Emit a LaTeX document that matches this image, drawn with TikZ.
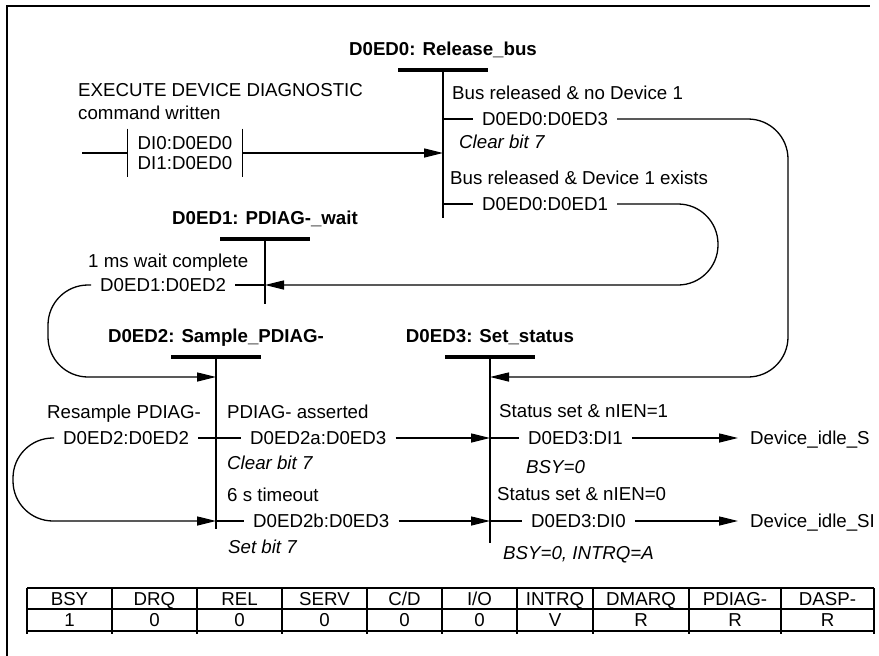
\documentclass[tikz,border=0pt]{standalone}
\usepackage{fontspec}
\setmainfont{Liberation Sans}
\usetikzlibrary{arrows.meta,positioning}
\newcommand\dgfont{\fontsize{18.7pt}{20pt}\selectfont}

\begin{document}
\begin{tikzpicture}[x=1pt,y=-1pt,font=\dgfont,
    lbl/.style={anchor=west,inner sep=0pt,text height=13.4pt,text depth=0pt},
    note/.style={lbl,font=\dgfont\itshape},
    tr/.style={lbl,inner xsep=9pt},
    idle/.style={lbl,inner xsep=12pt},
    ttl/.style={inner sep=0pt,text height=13.4pt,text depth=0pt,font=\dgfont\bfseries},
    cell/.style={inner sep=0pt,text height=13.4pt,text depth=0pt},
    wire/.style={line width=1.3pt},
    flow/.style={wire,-{Triangle[length=19pt,width=9pt]}},
    state/.style={line width=1.6pt},
    bar/.style={line width=4.5pt},
    grid/.style={line width=1.6pt}]
  \useasboundingbox (0,0) rectangle (879,656);
  \draw[line width=2pt] (7,656) -- (7,6) -- (870,6);

  % states: bar, title and vertical line
  \coordinate (s0) at (443,70);
  \coordinate (s1) at (265,239);
  \coordinate (s2) at (216,357);
  \coordinate (s3) at (490,357);
  \foreach \s/\len in {s0/148,s1/65,s2/172,s3/186}{
    \draw[bar] ([xshift=-45pt]\s) -- ([xshift=45pt]\s);
    \draw[state] (\s) -- ++(0,\len);
  }
  \node[ttl,above=14pt of s0] (n0) {D0ED0: Release\_bus};
  \node[ttl,above=14pt of s1] (n1) {D0ED1: PDIAG-\_wait};
  \node[ttl,above=14pt of s2] (n2) {D0ED2: Sample\_PDIAG-};
  \node[ttl,above=14pt of s3] (n3) {D0ED3: Set\_status};

  % command entry
  \node[lbl] (cmdA) at (78,90) {EXECUTE DEVICE DIAGNOSTIC};
  \node[lbl] (cmdB) at (78,113) {command written};
  \node[align=left,inner xsep=10pt,inner ysep=7.5pt] (cmd) at (185,153)
    {DI0:D0ED0\\DI1:D0ED0};
  \draw[state] (cmd.north west) -- (cmd.south west);
  \draw[state] (cmd.north east) -- (cmd.south east);
  \coordinate (start) at (82,153);
  \draw[wire] (start) -- (cmd.west);
  \draw[flow] (cmd.east) -- (cmd.east -| s0);

  % D0ED0
  \node[lbl] (c03) at (452,93) {Bus released \& no Device 1};
  \node[tr] (t03) at (473,119) {D0ED0:D0ED3};
  \node[note] (a03) at (459,142) {Clear bit 7};
  \node[lbl] (c01) at (450,178) {Bus released \& Device 1 exists};
  \node[tr] (t01) at (473,204) {D0ED0:D0ED1};
  \draw[wire] (t03.west -| s0) -- (t03.west);
  \draw[wire] (t01.west -| s0) -- (t01.west);
  \coordinate (r03) at (788,377);
  \coordinate (r01) at (718,285);
  \draw[flow,rounded corners=40pt] (t03.east) -| (r03) -- (r03 -| s3);
  \draw[flow,rounded corners=40pt] (t01.east) -| (r01) -- (r01 -| s1);

  % D0ED1
  \node[lbl] (c12) at (88,261) {1 ms wait complete};
  \node[tr] (t12) at (91,285) {D0ED1:D0ED2};
  \draw[wire] (t12.east) -- (t12.east -| s1);
  \coordinate (l12) at (48,377);
  \draw[flow,rounded corners=40pt] (t12.west) -| (l12) -- (l12 -| s2);

  % D0ED2
  \node[lbl] (c22) at (47,412) {Resample PDIAG-};
  \node[tr] (t22) at (54,438) {D0ED2:D0ED2};
  \node[lbl] (c2a) at (227,412) {PDIAG- asserted};
  \node[tr] (t2a) at (241,438) {D0ED2a:D0ED3};
  \node[note] (a2a) at (227,463) {Clear bit 7};
  \node[lbl] (c2b) at (227,495) {6 s timeout};
  \node[tr] (t2b) at (244,521) {D0ED2b:D0ED3};
  \node[note] (a2b) at (228,547) {Set bit 7};
  \draw[wire] (t22.east) -- (t2a.west);
  \draw[wire] (t2b.west -| s2) -- (t2b.west);
  \draw[flow] (t2a.east) -- (t2a.east -| s3);
  \draw[flow] (t2b.east) -- (t2b.east -| s3);
  \coordinate (l22) at (13,521);
  \draw[flow,rounded corners=40pt] (t22.west) -| (l22) -- (l22 -| s2);

  % D0ED3
  \node[lbl] (c31) at (499,411) {Status set \& nIEN=1};
  \node[tr] (t31) at (519,438) {D0ED3:DI1};
  \node[note] (a31) at (526,467) {BSY=0};
  \node[lbl] (c30) at (497,494) {Status set \& nIEN=0};
  \node[tr] (t30) at (522,521) {D0ED3:DI0};
  \node[note] (a30) at (503,553) {BSY=0, INTRQ=A};
  \node[idle] (idleS) at (738,438) {Device\_idle\_S};
  \node[idle] (idleSI) at (738,521) {Device\_idle\_SI};
  \draw[wire] (t31.west -| s3) -- (t31.west);
  \draw[wire] (t30.west -| s3) -- (t30.west);
  \draw[flow] (t31.east) -- (idleS.west);
  \draw[flow] (t30.east) -- (idleSI.west);

  % signal table
  \foreach \xa/\xb/\head/\val [count=\i] in {27/112/BSY/1,112/197/DRQ/0,
      197/282/REL/0,282/367/SERV/0,367/442/{C/D}/0,442/517/{I/O}/0,
      517/593/INTRQ/V,593/689/DMARQ/R,689/781/PDIAG-/R,781/874/DASP-/R}{
    \node[cell] (h\i) at ({(\xa+\xb)/2},599) {\head};
    \node[cell] (v\i) at ({(\xa+\xb)/2},620) {\val};
    \draw[grid] (\xb,588) -- (\xb,634);
  }
  \draw[grid] (27,588) -- (27,634);
  \draw[grid] (27,588) -- (874,588) (27,609) -- (874,609) (27,631) -- (874,631);
\end{tikzpicture}
\end{document}
